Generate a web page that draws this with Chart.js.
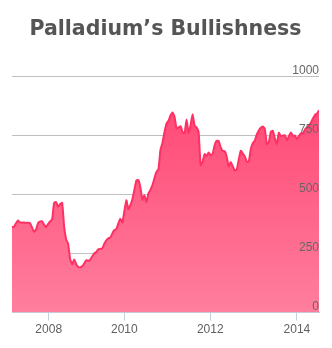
<!DOCTYPE html>
<html>
<head>
<meta charset="utf-8">
<script src="https://cdn.jsdelivr.net/npm/chart.js@4"></script>
<style>
  html, body { margin: 0; padding: 0; background: #fff; }
  #wrap { width: 332px; height: 348px; }
</style>
</head>
<body>
<div id="wrap"><canvas id="myChart" width="332" height="348"></canvas></div>
<script>
// weekly palladium price (USD/oz), early 2007 -> mid 2014
const prices = [
  362, 364, 378, 390, 382, 381, 382, 380, 381, 379,
  360, 343, 352, 380, 386, 387, 372, 363, 375, 386,
  395, 466, 468, 448, 460, 465, 363, 310, 290, 225,
  205, 225, 205, 193, 192, 196, 208, 222, 220, 224,
  238, 251, 257, 268, 270, 272, 292, 306, 315, 318,
  335, 350, 354, 378, 398, 382, 430, 476, 438, 455,
  480, 520, 560, 562, 530, 478, 497, 469, 505, 520,
  540, 570, 596, 608, 690, 720, 765, 801, 813, 835,
  848, 830, 780, 785, 790, 765, 760, 818, 762, 794,
  840, 792, 784, 765, 625, 640, 672, 664, 678, 667,
  673, 710, 728, 727, 700, 685, 684, 660, 620, 638,
  620, 602, 606, 648, 686, 674, 662, 640, 640, 692,
  718, 728, 755, 772, 783, 789, 778, 715, 723, 766,
  770, 738, 715, 762, 748, 750, 752, 730, 748, 763,
  748, 750, 735, 748, 760, 758, 776, 785, 792, 806,
  823, 838, 843, 857
];

// x-axis year labels and the week index where each year starts
const yearLabels = ['2008', '2010', '2012', '2014'];
const yearIndex = [18.3, 56, 98.8, 142];

const yTicks = [0, 250, 500, 750, 1000];

const points = [];
for (let i = 0; i < prices.length; i++) {
  points.push({x: i, y: prices[i]});
}

const tickFont = {family: "'Liberation Sans', Arial, sans-serif", size: 12};

const myChart = document.getElementById('myChart');

new Chart(myChart, {
  type: 'line',
  data: {
    datasets: [{
      data: points,
      borderColor: '#ff3064',
      borderWidth: 2,
      pointRadius: 0,
      tension: 0.15,
      fill: 'origin',
      backgroundColor: function(ctx) {
        const area = ctx.chart.chartArea;
        if (!area) return '#ff5a82';
        const g = ctx.chart.ctx.createLinearGradient(0, area.top, 0, area.bottom);
        g.addColorStop(0, '#ff4270');
        g.addColorStop(1, '#ff7e9e');
        return g;
      }
    }]
  },
  options: {
    responsive: false,
    animation: false,
    layout: {padding: {left: 12, right: 13, top: 0, bottom: 9}},
    plugins: {
      legend: {display: false},
      tooltip: {enabled: false},
      title: {
        display: true,
        text: 'Palladium\u2019s Bullishness',
        color: '#555555',
        font: {family: "'DejaVu Sans', sans-serif", size: 20.5, weight: 'bold'},
        padding: {top: 17, bottom: 35}
      }
    },
    scales: {
      x: {
        type: 'linear',
        min: 0,
        max: prices.length - 1,
        afterBuildTicks: function(axis) {
          axis.ticks = yearIndex.map(v => ({value: v}));
        },
        ticks: {
          autoSkip: false,
          maxRotation: 0,
          color: '#606060',
          font: tickFont,
          padding: 2,
          callback: function(value, index) { return yearLabels[index]; }
        },
        grid: {
          drawOnChartArea: false,
          drawTicks: true,
          tickLength: 8,
          color: '#c0d0e0'
        },
        border: {display: true, color: '#c0d0e0'}
      },
      y: {
        position: 'right',
        min: 0,
        max: 1000,
        afterBuildTicks: function(axis) {
          axis.ticks = yTicks.map(v => ({value: v}));
        },
        ticks: {
          z: 1,             // labels over the area, gridlines under it
          mirror: true,
          padding: 0,
          labelOffset: -6,
          color: '#666666',
          font: tickFont,
          callback: function(value) { return String(value); }
        },
        grid: {color: '#c0c0c0', drawTicks: false},
        border: {display: false}
      }
    }
  }
});
</script>
</body>
</html>
